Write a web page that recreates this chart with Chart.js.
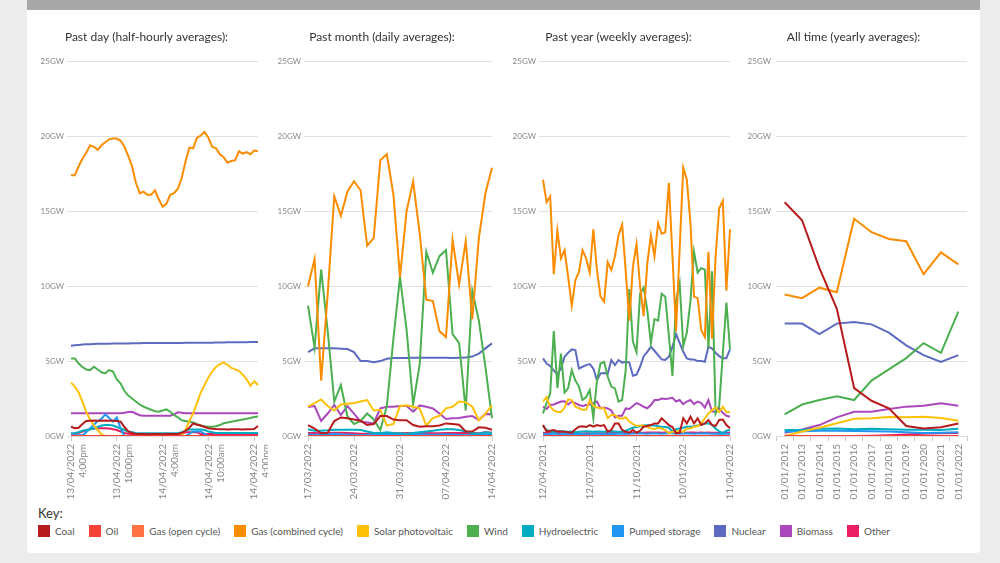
<!DOCTYPE html>
<html>
<head>
<meta charset="utf-8">
<script src="https://cdn.jsdelivr.net/npm/chart.js@4.4.1/dist/chart.umd.min.js"></script>
<style>
  html, body { margin: 0; padding: 0; background: #ececec; font-family: Lato, sans-serif; }
  #page { position: relative; width: 1000px; height: 563px; overflow: hidden; }
  #topbar { position: absolute; left: 27px; top: 0; width: 953px; height: 10px; background: #a8a8a8; }
  #card { position: absolute; left: 27px; top: 10px; width: 953px; height: 543px; background: #fff; border-radius: 0 0 4px 4px; }
  .box { position: absolute; top: 20px; height: 484px; }
  #key { position: absolute; left: 38px; top: 505px; font-size: 13px; color: #333; }
  #legend { position: absolute; left: 38px; top: 524px; display: flex; font-size: 10px; color: #555; line-height: 14px; }
  #legend .item { display: flex; align-items: center; margin-right: 14px; }
  #legend .sw { width: 12px; height: 12px; margin-right: 5px; }
</style>
</head>
<body>
<div id="page">
  <div id="topbar"></div>
  <div id="card"></div>
  <div class="box" style="left:35px;width:233px"><canvas id="dayChart"></canvas></div>
  <div class="box" style="left:272px;width:230px"><canvas id="monthChart"></canvas></div>
  <div class="box" style="left:507px;width:233px"><canvas id="yearChart"></canvas></div>
  <div class="box" style="left:740px;width:237px"><canvas id="allChart"></canvas></div>
  <div id="key">Key:</div>
  <div id="legend"></div>
</div>
<script>
const seriesNames = ["Coal", "Oil", "Gas (open cycle)", "Gas (combined cycle)", "Solar photovoltaic", "Wind", "Hydroelectric", "Pumped storage", "Nuclear", "Biomass", "Other"];
const seriesColors = ["#b71c1c", "#f44336", "#ff7043", "#fb8c00", "#ffc107", "#4caf50", "#00acc1", "#2196f3", "#5c6bc0", "#ab47bc", "#e91e63"];

// past day, half-hourly (13/04 4:00pm -> 14/04 4:30pm)
const dayTicks = [["13/04/2022", "4:00pm"], ["13/04/2022", "10:00pm"], ["14/04/2022", "4:00am"], ["14/04/2022", "10:00am"], ["14/04/2022", "4:00pm"]];
const dayCoal = [0.62,0.52,0.55,0.8,1.0,1.02,1.03,1.02,1.02,1.03,1.02,1.02,1.0,0.95,0.6,0.3,0.2,0.14,0.13,0.13,0.12,0.13,0.13,0.13,0.12,0.13,0.13,0.13,0.14,0.2,0.35,0.55,0.84,0.75,0.7,0.6,0.52,0.48,0.46,0.45,0.45,0.44,0.45,0.45,0.45,0.44,0.45,0.45,0.46,0.67];
const dayOil = [0,0,0,0,0,0,0,0,0,0,0,0,0,0,0,0,0,0,0,0,0,0,0,0,0,0,0,0,0,0,0,0,0,0,0,0,0,0,0,0,0,0,0,0,0,0,0,0,0,0];
const dayGasOpen = [0,0,0,0,0,0,0,0,0,0,0,0,0,0,0,0,0,0,0,0,0,0,0,0,0,0,0,0,0,0,0,0,0,0,0,0,0,0,0,0,0,0,0,0,0,0,0,0,0,0];
const dayGasCC = [17.4,17.4,18.0,18.5,18.9,19.4,19.3,19.1,19.4,19.6,19.8,19.85,19.85,19.7,19.3,18.7,18.0,16.9,16.2,16.3,16.1,16.1,16.4,15.8,15.3,15.5,16.1,16.2,16.5,17.2,18.3,19.25,19.2,19.9,20.05,20.3,19.9,19.3,19.2,18.8,18.6,18.25,18.35,18.4,19.0,18.85,18.95,18.8,19.05,19.0];
const daySolar = [3.56,3.3,2.9,2.3,1.6,1.1,0.7,0.4,0.1,0,0,0,0,0,0,0,0,0,0,0,0,0,0,0,0,0,0,0,0,0.1,0.4,1.0,1.5,2.2,2.9,3.4,3.9,4.3,4.6,4.8,4.9,4.75,4.55,4.45,4.35,4.1,3.8,3.35,3.65,3.4];
const dayWind = [5.18,5.18,4.84,4.6,4.44,4.4,4.62,4.44,4.25,4.18,4.4,4.3,3.78,3.5,3.0,2.7,2.5,2.3,2.1,1.96,1.85,1.75,1.65,1.62,1.7,1.78,1.62,1.4,1.25,1.05,1.0,0.95,0.9,0.8,0.7,0.65,0.62,0.62,0.65,0.73,0.85,0.9,0.95,1.0,1.05,1.1,1.15,1.2,1.27,1.3];
const dayHydro = [0.18,0.2,0.25,0.35,0.4,0.45,0.5,0.6,0.7,0.73,0.73,0.7,0.6,0.5,0.4,0.3,0.25,0.2,0.18,0.18,0.18,0.18,0.18,0.18,0.18,0.18,0.18,0.18,0.18,0.25,0.35,0.44,0.44,0.44,0.44,0.4,0.3,0.25,0.2,0.2,0.2,0.2,0.2,0.2,0.2,0.2,0.2,0.2,0.2,0.2];
const dayPumped = [0.05,0.05,0.05,0.05,0.25,0.5,0.75,1.0,1.15,1.44,1.2,0.96,1.24,0.5,0,0,0,0,0,0,0,0,0,0,0,0,0,0,0,0,0,0.15,0.3,0.3,0.3,0.15,0,0,0,0,0,0,0,0,0,0,0,0,0,0];
const dayNuclear = [6.02,6.05,6.08,6.1,6.12,6.13,6.14,6.15,6.15,6.16,6.16,6.17,6.17,6.18,6.18,6.18,6.19,6.19,6.19,6.2,6.2,6.2,6.2,6.2,6.2,6.2,6.21,6.21,6.21,6.21,6.22,6.22,6.22,6.22,6.22,6.23,6.23,6.23,6.24,6.24,6.24,6.25,6.25,6.25,6.26,6.26,6.26,6.27,6.27,6.27];
const dayBiomass = [1.52,1.52,1.52,1.52,1.52,1.52,1.52,1.52,1.52,1.52,1.52,1.52,1.52,1.52,1.55,1.6,1.62,1.5,1.38,1.35,1.35,1.35,1.35,1.35,1.35,1.35,1.35,1.45,1.58,1.55,1.52,1.52,1.52,1.52,1.52,1.52,1.52,1.52,1.52,1.52,1.52,1.52,1.52,1.52,1.52,1.52,1.52,1.52,1.52,1.52];
const dayOther = [0.15,0.15,0.2,0.3,0.38,0.45,0.5,0.52,0.52,0.52,0.5,0.45,0.4,0.3,0.2,0.15,0.13,0.13,0.13,0.13,0.13,0.13,0.13,0.13,0.13,0.13,0.13,0.13,0.13,0.13,0.25,0.25,0.25,0.25,0.13,0.13,0.13,0.13,0.13,0.13,0.13,0.13,0.13,0.13,0.13,0.13,0.13,0.13,0.13,0.13];

// past month, daily (17/03 -> 14/04)
const monthTicks = ["17/03/2022", "24/03/2022", "31/03/2022", "07/04/2022", "14/04/2022"];
const monthCoal = [0.73,0.5,0.18,0.22,1.0,1.24,1.18,1.1,1.02,0.73,0.8,1.33,1.33,1.1,1.05,1.05,0.73,0.62,0.65,0.65,0.7,0.84,0.8,0.75,0.3,0.3,0.58,0.55,0.42];
const monthOil = [0,0,0,0,0,0,0,0,0,0,0,0,0,0,0,0,0,0,0,0,0,0,0,0,0,0,0,0,0];
const monthGasOpen = [0,0,0,0,0,0,0,0,0,0,0,0,0,0,0,0,0,0,0,0,0,0,0,0,0,0,0,0,0];
const monthGasCC = [10.0,11.8,3.7,9.5,16.0,14.7,16.3,17.0,16.4,12.7,13.2,18.4,18.8,16.1,10.6,15.0,17.0,13.5,9.1,9.0,7.0,6.6,13.1,10.1,13.0,7.8,13.2,16.2,17.9];
const monthSolar = [1.96,2.2,2.44,2.0,1.7,2.1,2.15,2.2,2.3,2.4,1.7,1.75,0.7,0.8,2.0,2.05,1.95,1.85,0.7,1.2,1.35,1.85,1.95,2.3,2.25,1.95,1.05,1.5,2.05];
const monthWind = [8.7,5.9,11.1,7.0,2.3,3.4,1.3,0.8,1.0,1.5,1.1,0.4,2.0,6.5,10.6,7.1,2.1,4.8,12.3,10.9,12.0,12.4,6.8,6.2,1.7,9.7,7.7,4.6,1.2];
const monthHydro = [0.45,0.35,0.35,0.38,0.42,0.42,0.42,0.42,0.4,0.3,0.2,0.2,0.25,0.2,0.18,0.15,0.2,0.25,0.3,0.35,0.42,0.45,0.45,0.4,0.3,0.2,0.15,0.25,0.2];
const monthPumped = [0.1,0.08,0.1,0.12,0.15,0.12,0.1,0.08,0.05,0.08,0.1,0.12,0.15,0.1,0.08,0.05,0.1,0.12,0.1,0.08,0.1,0.12,0.1,0.08,0.05,0.08,0.1,0.12,0.1];
const monthNuclear = [5.6,5.85,5.85,5.85,5.85,5.83,5.8,5.6,5.0,5.0,4.93,5.0,5.15,5.2,5.2,5.2,5.22,5.22,5.22,5.22,5.22,5.22,5.2,5.22,5.24,5.3,5.5,5.85,6.18];
const monthBiomass = [1.93,2.0,1.0,1.5,2.07,1.4,2.0,1.5,0.96,0.9,0.84,1.84,1.96,1.96,2.0,2.0,1.62,2.04,1.95,1.84,1.5,1.13,1.18,1.2,1.29,1.33,1.07,1.47,1.45];
const monthOther = [0.2,0.2,0.18,0.2,0.22,0.22,0.2,0.18,0.15,0.15,0.18,0.2,0.2,0.18,0.18,0.2,0.2,0.22,0.2,0.18,0.18,0.2,0.2,0.2,0.22,0.2,0.18,0.25,0.22];

// past year, weekly (12/04/2021 -> 11/04/2022)
const yearTicks = ["12/04/2021", "12/07/2021", "11/10/2021", "10/01/2022", "11/04/2022"];
const yearCoal = [0.73,0.3,0.35,0.4,0.3,0.3,0.28,0.25,0.22,0.45,0.62,0.65,0.6,0.73,0.62,0.73,0.67,0.73,0.29,0.4,0.84,0.84,0.4,0.29,0.22,0.4,0.22,0.35,0.62,0.67,0.73,0.84,0.84,1.18,0.96,0.73,0.6,0.18,0.22,1.18,0.84,1.29,0.84,1.18,0.73,0.84,1.07,0.73,0.67,1.07,1.1,0.73,0.51];
const yearOil = [0,0,0,0,0,0,0,0,0,0,0,0,0,0,0,0,0,0,0,0,0,0,0,0,0,0,0,0,0,0,0,0,0,0,0,0,0,0,0,0,0,0,0,0,0,0,0,0,0,0,0,0,0];
const yearGasOpen = [0,0,0,0,0,0,0,0,0,0,0,0,0,0,0,0,0,0,0,0,0,0,0,0,0,0,0,0,0,0,0,0,0,0,0,0,0,0,0,0,0,0,0,0,0,0,0,0,0,0,0,0,0];
const yearGasCC = [17.1,15.6,16.0,10.8,13.7,11.85,12.4,10.6,8.7,10.4,10.95,12.4,11.85,10.9,13.8,11.07,9.3,8.96,11.6,11.07,12.0,13.4,14.1,11.0,7.7,11.3,12.8,10.0,8.0,11.5,13.4,12.0,14.2,13.5,13.6,16.9,12.0,7.0,12.5,17.9,17.1,14.2,9.3,9.2,7.07,6.6,12.3,6.5,12.0,15.2,15.7,9.7,13.8];
const yearSolar = [2.3,2.6,1.95,1.7,1.6,1.6,1.9,2.45,2.4,1.95,1.85,1.75,1.75,2.4,2.0,1.9,1.85,1.85,1.2,1.4,1.4,1.2,1.15,1.25,0.96,0.8,0.67,0.7,0.7,0.62,0.51,0.45,0.55,0.5,0.4,0.18,0.28,0.3,0.35,0.28,0.5,0.5,0.62,0.67,0.84,1.18,1.5,1.73,1.9,1.6,1.95,1.6,1.6];
const yearWind = [1.51,2.2,2.84,7.0,3.2,5.5,2.9,3.2,4.4,3.7,3.3,2.4,2.6,3.07,1.2,3.7,4.84,4.95,3.95,3.3,3.18,2.3,2.4,4.4,9.8,6.3,5.6,9.5,9.9,8.4,6.2,7.8,7.7,9.5,9.3,6.7,4.0,9.0,10.2,6.0,6.9,9.0,12.3,10.9,11.2,11.1,5.9,11.0,1.5,2.0,5.5,8.9,5.8];
const yearHydro = [0.7,0.4,0.3,0.28,0.3,0.32,0.3,0.28,0.3,0.25,0.28,0.3,0.32,0.3,0.28,0.3,0.3,0.28,0.3,0.32,0.3,0.28,0.3,0.35,0.45,0.55,0.6,0.65,0.7,0.72,0.72,0.7,0.65,0.62,0.6,0.55,0.3,0.45,0.5,0.55,0.62,0.62,0.65,0.7,0.75,0.84,0.84,0.75,0.5,0.3,0.2,0.35,0.4];
const yearPumped = [0.15,0.12,0.14,0.16,0.13,0.12,0.15,0.14,0.12,0.13,0.15,0.14,0.12,0.13,0.15,0.16,0.14,0.12,0.13,0.15,0.14,0.16,0.15,0.13,0.15,0.17,0.16,0.18,0.16,0.15,0.17,0.18,0.16,0.15,0.17,0.19,0.18,0.16,0.15,0.17,0.18,0.16,0.15,0.17,0.16,0.18,0.17,0.15,0.16,0.14,0.15,0.16,0.14];
const yearNuclear = [5.18,4.84,4.67,4.36,4.13,4.5,5.29,5.56,5.78,5.73,4.5,4.62,4.73,4.8,4.5,3.73,4.18,4.2,4.15,5.07,4.73,5.07,4.9,4.95,4.9,4.02,4.1,4.62,5.33,5.62,5.96,5.69,5.4,5.11,5.07,5.29,5.96,6.8,6.22,5.62,5.18,5.11,5.1,5.0,5.0,4.95,5.96,5.84,5.56,5.33,5.18,5.2,5.78];
const yearBiomass = [1.96,1.8,2.07,2.1,2.2,2.3,2.32,2.1,2.3,2.2,2.07,2.0,2.07,2.1,2.2,2.3,1.84,1.9,1.84,1.7,1.24,1.35,1.35,1.84,1.8,2.0,2.2,2.1,1.95,1.85,2.07,2.4,2.4,2.5,2.47,2.5,2.55,2.3,2.4,2.13,2.3,2.4,2.13,2.3,2.2,1.9,2.4,1.64,1.6,1.84,1.55,1.35,1.29];
const yearOther = [0.22,0.2,0.2,0.18,0.2,0.2,0.18,0.18,0.17,0.18,0.18,0.17,0.18,0.18,0.17,0.18,0.18,0.19,0.2,0.2,0.2,0.21,0.21,0.22,0.22,0.22,0.23,0.22,0.22,0.23,0.23,0.24,0.23,0.22,0.23,0.24,0.22,0.23,0.22,0.23,0.22,0.23,0.24,0.22,0.23,0.22,0.23,0.22,0.21,0.22,0.22,0.21,0.22];

// all time, yearly
const allYears = ["01/01/2012", "01/01/2013", "01/01/2014", "01/01/2015", "01/01/2016", "01/01/2017", "01/01/2018", "01/01/2019", "01/01/2020", "01/01/2021", "01/01/2022"];
const allCoal = [15.6,14.4,11.2,8.5,3.2,2.35,1.85,0.67,0.5,0.58,0.84];
const allOil = [0,0,0,0,0,0,0,0,0,0,0];
const allGasOpen = [0,0,0,0,0,0,0,0,0,0,0];
const allGasCC = [9.45,9.2,9.9,9.6,14.5,13.6,13.15,13.0,10.8,12.25,11.45];
const allSolar = [0.0,0.3,0.55,0.85,1.15,1.18,1.27,1.25,1.28,1.2,1.02];
const allWind = [1.45,2.1,2.4,2.65,2.4,3.7,4.45,5.2,6.2,5.55,8.3];
const allHydro = [0.4,0.42,0.48,0.5,0.45,0.48,0.45,0.42,0.42,0.4,0.48];
const allPumped = [0.3,0.32,0.35,0.35,0.33,0.32,0.3,0.25,0.2,0.22,0.25];
const allNuclear = [7.5,7.5,6.8,7.5,7.6,7.45,6.9,6.05,5.4,4.95,5.4];
const allBiomass = [0.22,0.44,0.73,1.24,1.62,1.62,1.8,1.96,2.02,2.18,2.02];
const allOther = [0,0,0,0,0,0.02,0.05,0.1,0.15,0.18,0.2];

function buildSets(arrays) {
  return arrays.map((d, i) => ({
    label: seriesNames[i],
    data: d,
    borderColor: seriesColors[i],
    backgroundColor: seriesColors[i],
  }));
}

function makeChart(id, title, sets, tickLabel, every, yearly) {
  const labels = sets[0].map((_, i) => i);

  return new Chart(document.getElementById(id), {
    type: "line",
    data: { labels: labels, datasets: buildSets(sets) },
    options: {
      responsive: true,
      maintainAspectRatio: false,
      animation: false,
      layout: { padding: { right: 10 } },
      elements: {
        line: { borderWidth: 2, tension: 0 },
        point: { radius: 0 },
      },
      plugins: {
        legend: { display: false },
        tooltip: { enabled: false },
        title: {
          display: true,
          text: title,
          color: "#333",
          font: { family: "Lato", size: 12, weight: "normal" },
          padding: { top: 10, bottom: 17 },
        },
      },
      scales: {
        x: {
          offset: yearly,
          border: { display: false },
          grid: { drawOnChartArea: false, offset: yearly, tickLength: 5, color: "#ccc" },
          afterBuildTicks: (axis) => {
            axis.ticks = axis.ticks.filter((t) => t.value % every === 0);
          },
          afterFit: (s) => {
            s.height = 68;
            s.paddingLeft = 0;
            s.paddingRight = 0;
          },
          ticks: {
            autoSkip: false,
            maxRotation: 90,
            minRotation: 90,
            padding: 3,
            color: "#888",
            font: { family: "Lato", size: 10 },
            callback: (v) => tickLabel(v),
          },
        },
        y: {
          min: 0,
          max: 25,
          border: { display: false },
          grid: { color: "#e0e0e0", drawTicks: !yearly, tickLength: 4 },
          afterFit: (s) => {
            s.width = 36;
            s.paddingTop = 0;
            s.paddingBottom = 0;
          },
          ticks: {
            stepSize: 5,
            padding: yearly ? 5 : 3,
            color: "#888",
            font: { family: "Lato", size: 8 },
            callback: (v) => v + "GW",
          },
        },
      },
    },
  });
}

makeChart("dayChart", "Past day (half-hourly averages):",
  [dayCoal, dayOil, dayGasOpen, dayGasCC, daySolar, dayWind, dayHydro, dayPumped, dayNuclear, dayBiomass, dayOther],
  (v) => dayTicks[v / 12], 12, false);

makeChart("monthChart", "Past month (daily averages):",
  [monthCoal, monthOil, monthGasOpen, monthGasCC, monthSolar, monthWind, monthHydro, monthPumped, monthNuclear, monthBiomass, monthOther],
  (v) => monthTicks[v / 7], 7, false);

makeChart("yearChart", "Past year (weekly averages):",
  [yearCoal, yearOil, yearGasOpen, yearGasCC, yearSolar, yearWind, yearHydro, yearPumped, yearNuclear, yearBiomass, yearOther],
  (v) => yearTicks[v / 13], 13, false);

makeChart("allChart", "All time (yearly averages):",
  [allCoal, allOil, allGasOpen, allGasCC, allSolar, allWind, allHydro, allPumped, allNuclear, allBiomass, allOther],
  (v) => allYears[v], 1, true);

// key
const legend = document.getElementById("legend");
seriesNames.forEach((name, i) => {
  const item = document.createElement("div");
  item.className = "item";
  item.innerHTML = `<span class="sw" style="background:${seriesColors[i]}"></span>${name}`;
  legend.appendChild(item);
});
</script>
</body>
</html>
